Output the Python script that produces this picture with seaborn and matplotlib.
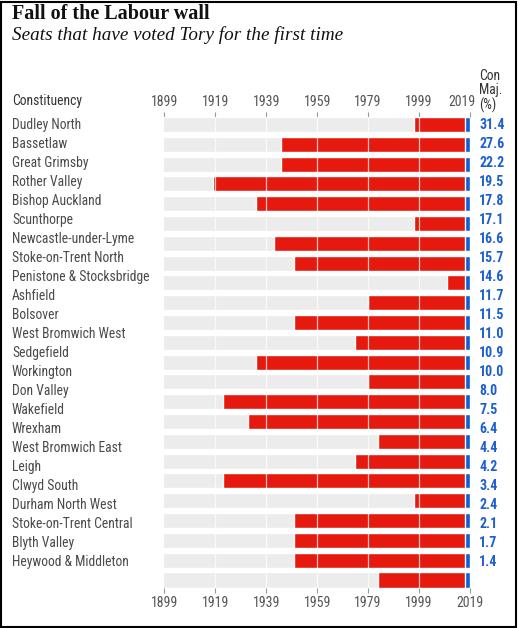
import matplotlib
matplotlib.use("Agg")
import matplotlib.pyplot as plt
from matplotlib import transforms
from matplotlib.patches import Rectangle
import pandas as pd
import seaborn as sns

# data
constituencies = [
    "Dudley North", "Bassetlaw", "Great Grimsby", "Rother Valley",
    "Bishop Auckland", "Scunthorpe", "Newcastle-under-Lyme",
    "Stoke-on-Trent North", "Penistone & Stocksbridge", "Ashfield",
    "Bolsover", "West Bromwich West", "Sedgefield", "Workington",
    "Don Valley", "Wakefield", "Wrexham", "West Bromwich East", "Leigh",
    "Clwyd South", "Durham North West", "Stoke-on-Trent Central",
    "Blyth Valley", "Heywood & Middleton",
]
labour_since = [1997, 1945, 1945, 1918, 1935, 1997, 1942, 1950, 2010, 1979,
                1950, 1974, 1935, 1979, 1922, 1932, 1983, 1974, 1922, 1997,
                1950, 1950, 1950, 1983]
con_majority = [31.4, 27.6, 22.2, 19.5, 17.8, 17.1, 16.6, 15.7, 14.6, 11.7,
                11.5, 11.0, 10.9, 10.0, 8.0, 7.5, 6.4, 4.4, 4.2, 3.4, 2.4,
                2.1, 1.7, 1.4]
year_ticks = [1899, 1919, 1939, 1959, 1979, 1999, 2019]
tory_win_start = 2017
election_year = 2019

df = pd.DataFrame({
    "seat": constituencies,
    "since": labour_since,
    "maj": con_majority,
})
df["end"] = election_year
df["red_end"] = tory_win_start

GREY = "#ececec"
RED = "#e6190f"
BLUE = "#0d5fd6"
TEXT = "#4a4a4a"
VALUE_BLUE = "#1b5fd0"
SANS = ["Roboto Condensed", "PT Sans Narrow", "Liberation Sans Narrow",
        "Liberation Sans"]
SERIF = ["Liberation Serif", "DejaVu Serif"]

sns.set_style("white")
plt.rcParams["font.family"] = SANS

W, H = 518, 628
fig = plt.figure(figsize=(W / 100, H / 100), dpi=100)
ax = fig.add_axes([164.3 / W, 1 - 587.5 / H, 305.7 / W, (587.5 - 117) / H])

bar_h = 0.76
# layered bars drawn from zero and clipped by the x limits
sns.barplot(data=df, y="seat", x="end", orient="h", color=BLUE,
            width=bar_h, saturation=1, ax=ax)
sns.barplot(data=df, y="seat", x="red_end", orient="h", color=RED,
            width=bar_h, saturation=1, ax=ax)
sns.barplot(data=df, y="seat", x="since", orient="h", color=GREY,
            width=bar_h, saturation=1, ax=ax)

n = len(df)
ax.set_xlim(year_ticks[0], year_ticks[-1])
ax.set_ylim(n - 1 + bar_h / 2, -bar_h / 2)
ax.set_xlabel("")
ax.set_ylabel("")
ax.set_yticks([])
sns.despine(ax=ax, left=True, right=True, top=True, bottom=True)

ax.set_xticks(year_ticks)
ax.set_xticklabels([str(y) for y in year_ticks])
ax.tick_params(axis="x", which="both", top=True, bottom=True,
               labeltop=True, labelbottom=True, direction="out",
               length=3.6, width=0.8, color="#999999",
               labelsize=10, labelcolor="#555555", pad=2.5)
# top "2019" sits a little left so it clears the header on the right
last = ax.xaxis.get_major_ticks()[-1]
last.label2.set_transform(last.label2.get_transform()
                          + transforms.ScaledTranslation(-0.08, 0,
                                                         fig.dpi_scale_trans))
for x in year_ticks[1:-1]:
    ax.axvline(x, color="white", lw=0.9, alpha=0.75, zorder=5)

# row labels (spaced a touch tighter than the bars, as in the original)
label_step = 19.0 / 19.8
row_tf = transforms.blended_transform_factory(fig.transFigure, ax.transData)
for i, row in df.iterrows():
    y = i * label_step
    ax.text(12 / W, y, row["seat"], transform=row_tf,
            fontsize=9.8, color=TEXT, va="center", ha="left")
    ax.text(479 / W, y, f"{row['maj']:.1f}", transform=row_tf,
            fontsize=10, fontweight="bold", color=VALUE_BLUE,
            va="center", ha="left")

fig.text(12 / W, 1 - 101.5 / H, "Constituency", fontsize=9.8,
         color="#333333", va="center", ha="left")
fig.text(479 / W, 1 - 91 / H, "Con\nMaj.\n(%)", fontsize=9.8,
         color="#333333", va="center", ha="left", linespacing=1.05)

fig.text(12 / W, 1 - 14 / H, "Fall of the Labour wall", family=SERIF,
         fontweight="bold", fontsize=14.5, color="#111111",
         va="center", ha="left")
fig.text(12 / W, 1 - 35 / H, "Seats that have voted Tory for the first time",
         family=SERIF, style="italic", fontsize=13.8, color="#111111",
         va="center", ha="left")

fig.patches.append(Rectangle((1 / W, 1 / H), (W - 3) / W, (H - 3) / H,
                             transform=fig.transFigure, fill=False,
                             edgecolor="black", linewidth=1.5))

fig.savefig("out.png", dpi=100)
